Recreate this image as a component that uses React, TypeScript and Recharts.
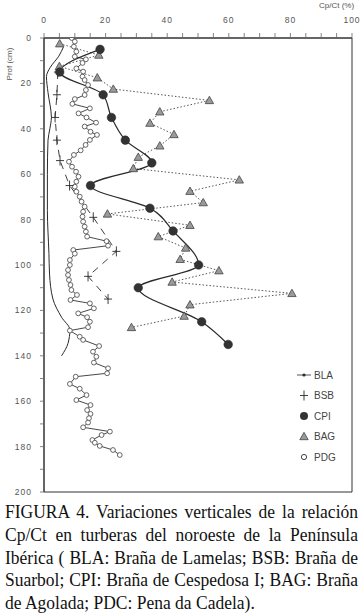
import { LineChart, XAxis, YAxis, Line, ReferenceArea } from 'recharts';

// Depth (cm) and Cp/Ct (%)
const blaDepth = [4, 8, 13, 17, 24, 35, 40, 45, 60, 76, 95, 104, 115, 123, 128.6, 134.5, 140];
const blaVal = [6.3, 4.8, 2.0, 0.8, 1.3, 2.4, 1.9, 1.3, 1.1, 1.1, 1.6, 1.8, 2.9, 5.7, 8.4, 7.8, 5.7];

const bsbDepth = [15, 25, 35, 45, 54, 65, 79, 94, 105, 115];
const bsbVal = [4.5, 4.2, 3.6, 4.2, 5.2, 8.3, 16.0, 23.5, 14.3, 20.8];

const cpiDepth = [5, 15, 25, 35, 45, 55, 65, 75, 85, 100, 110, 125, 135];
const cpiVal = [18.2, 5.1, 19.2, 21.9, 26.4, 35.0, 15.1, 34.4, 41.9, 50.2, 30.6, 51.2, 59.8];

const bagDepth = [2.5, 7.5, 12.5, 17.5, 22.5, 27.5, 32.5, 37.5, 42.5, 47.5, 52.5, 57.5, 62.5, 67.5, 72.5, 77.5, 82.5, 87.5, 92.5, 97.5, 102.5, 107.5, 112.5, 117.5, 122.5, 127.5];
const bagVal = [5.1, 17.8, 5.0, 17.3, 22.5, 53.7, 37.6, 34.4, 42.2, 37.6, 30.6, 29.0, 63.4, 47.4, 51.7, 20.6, 47.4, 37.1, 46.0, 44.2, 56.8, 41.6, 80.5, 47.4, 45.5, 28.4];

const pdcDepth = [
  0, 1.6, 3.8, 6, 8.2, 9.4, 11, 13.4, 14.8, 17, 18.5, 20.7, 22.9, 25.1, 26.9, 29, 31, 33.2, 35, 37.3,
  39, 41.3, 42.7, 44.9, 47.1, 49.5, 51.5, 54.5, 56.7, 58.9, 61.1, 63.3, 65.5, 67.7, 69.9, 72.1, 74.3,
  76.5, 78.7, 80.9, 83.1, 85.3, 87.5, 89.5, 91.5, 93.4, 95, 97.8, 100, 102.2, 104.4, 106.6, 108.8, 111,
  113.2, 115.4, 116.9, 119.1, 121.3, 123, 125, 127.4, 128.9, 131.6, 133, 135.7, 138.2, 140.4, 143,
  145.5, 147.7, 149.2, 152.4, 154.5, 157.3, 159.5, 161.7, 163.9, 165.6, 167.5, 169.4, 171.5, 173.4,
  174.9, 177.1, 178.3, 179.7, 181.5, 183.7,
];
const pdcVal = [
  9, 10, 9.7, 10.5, 10, 13.6, 12.5, 10.5, 12.7, 12.5, 13.2, 14.3, 13.6, 13.2, 10, 9.2, 14.9, 11.2, 13.8, 16.9,
  13.2, 15.1, 17.2, 14.9, 13.5, 11.9, 9.7, 8.1, 9.1, 10.4, 11.2, 10.5, 10, 10.5, 11.6, 12.2, 13.2,
  12.7, 12.5, 12.7, 13.2, 13.6, 14, 20.3, 20.8, 9.5, 10, 8.4, 8.4, 7.8, 7.8, 8.1, 8.6, 8.9,
  10.7, 8.6, 14.9, 16.2, 11.1, 14, 14.9, 14.3, 8.4, 11.6, 12.7, 17.9, 15.9, 17, 16.2,
  20.8, 20.5, 10.3, 8.4, 11.6, 13.8, 10.5, 15.1, 14, 15.1, 14.6, 14.3, 12.7, 21.4,
  18.7, 15.7, 16.5, 18.1, 22.4, 24.6,
];

const xTicks = [0, 5, 10, 15, 20, 25, 30, 35, 40, 45, 50, 55, 60, 65, 70, 75, 80, 85, 90, 95, 100];
const yTicks = [0, 10, 20, 30, 40, 50, 60, 70, 80, 90, 100, 110, 120, 130, 140, 150, 160, 170, 180, 190, 200];
const legendNames = ['BLA', 'BSB', 'CPI', 'BAG', 'PDG'];

const rows = (depth: number[], vals: number[]) => depth.map((d, i) => ({ d, v: vals[i] }));

const INK = '#2a2a2a';
const axisFont = { fontFamily: 'Liberation Sans, Arial, sans-serif', fontSize: 8.5, fill: '#555', letterSpacing: 1 };

const XTick = (p: any) => {
  const v = p.payload.value;
  return (
    <g>
      <line x1={p.x} x2={p.x} y1={p.y} y2={p.y - 5} stroke="#666" strokeWidth={0.8} />
      {v % 20 === 0 && (
        <text x={p.x} y={p.y - 15} textAnchor="middle" {...axisFont}>{v}</text>
      )}
    </g>
  );
};

const YTick = (p: any) => {
  const v = p.payload.value;
  return (
    <g>
      <line x1={p.x} x2={p.x - 4} y1={p.y} y2={p.y} stroke="#666" strokeWidth={0.8} />
      {v % 20 === 0 && (
        <text x={p.x - 12} y={p.y + 3} textAnchor="end" {...axisFont}>{v}</text>
      )}
    </g>
  );
};

const Tri = (p: any) => {
  if (p.cx == null) return null;
  const { cx, cy } = p;
  return <polygon key={p.index} points={`${cx},${cy - 4.2} ${cx - 4.2},${cy + 3.2} ${cx + 4.2},${cy + 3.2}`} fill="#9a9a9a" stroke="#444" strokeWidth={0.8} />;
};

const Plus = (p: any) => {
  if (p.cx == null) return null;
  const { cx, cy } = p;
  return (
    <g key={p.index}>
      <line x1={cx - 4} x2={cx + 4} y1={cy} y2={cy} stroke={INK} strokeWidth={0.9} />
      <line x1={cx} x2={cx} y1={cy - 5} y2={cy + 5} stroke={INK} strokeWidth={0.9} />
    </g>
  );
};

const LegendMark = ({ name, x, y }: { name: string; x: number; y: number }) => {
  if (name === 'BLA') return (
    <g>
      <line x1={x - 7} x2={x + 7} y1={y} y2={y} stroke={INK} strokeWidth={0.8} />
      <circle cx={x} cy={y} r={1.6} fill={INK} />
    </g>
  );
  if (name === 'BSB') return <Plus cx={x} cy={y} index={0} />;
  if (name === 'CPI') return <circle cx={x} cy={y} r={4} fill="#333" />;
  if (name === 'BAG') return <Tri cx={x} cy={y} index={0} />;
  return <circle cx={x} cy={y} r={2.6} fill="#fff" stroke="#444" />;
};

const captionLine = { textAlign: 'justify' as const, textAlignLast: 'justify' as const, whiteSpace: 'nowrap' as const };

export default function App() {
  return (
    <div style={{ position: 'absolute', left: 0, top: 0, width: 363, height: 614, background: '#fff', overflow: 'hidden' }}>
      <LineChart width={363} height={500} layout="vertical" margin={{ top: 0, right: 11, bottom: 8, left: 0 }}>
        <XAxis type="number" dataKey="v" orientation="top" domain={[0, 100]} ticks={xTicks} interval={0}
          height={38} tickSize={0} tickMargin={0} tick={(p: any) => <XTick {...p} />} axisLine={{ stroke: '#333' }} allowDataOverflow />
        <YAxis type="number" dataKey="d" domain={[0, 200]} ticks={yTicks} interval={0}
          width={44} tickSize={0} tickMargin={0} tick={(p: any) => <YTick {...p} />} axisLine={{ stroke: '#333' }} allowDataOverflow />
        <ReferenceArea x1={0} x2={100} y1={0} y2={200} fill="none" stroke="#333" strokeWidth={1} />
        <Line data={rows(pdcDepth, pdcVal)} dataKey="v" type="linear" stroke="#333" strokeWidth={0.9}
          dot={{ r: 2.4, fill: '#fff', stroke: '#555', strokeWidth: 0.9 }} isAnimationActive={false} />
        <Line data={rows(blaDepth, blaVal)} dataKey="v" type="monotone" stroke={INK} strokeWidth={1}
          dot={false} isAnimationActive={false} />
        <Line data={rows(bsbDepth, bsbVal)} dataKey="v" type="linear" stroke={INK} strokeWidth={0.9} strokeDasharray="7 6"
          dot={(p: any) => <Plus {...p} />} isAnimationActive={false} />
        <Line data={rows(bagDepth, bagVal)} dataKey="v" type="linear" stroke="#444" strokeWidth={0.9} strokeDasharray="1.5 2"
          dot={(p: any) => <Tri {...p} />} isAnimationActive={false} />
        <Line data={rows(cpiDepth, cpiVal)} dataKey="v" type="monotone" stroke={INK} strokeWidth={1.2}
          dot={{ r: 4.3, fill: '#333', stroke: '#222', strokeWidth: 0.5 }} isAnimationActive={false} />
      </LineChart>
      <svg width={363} height={500} style={{ position: 'absolute', left: 0, top: 0, pointerEvents: 'none' }}>
        <text x={319} y={8} fontFamily="Liberation Sans, Arial, sans-serif" fontSize={8} fill="#555">Cp/Ct (%)</text>
        <text transform="translate(12,64) rotate(-90)" textAnchor="middle" fontFamily="Liberation Sans, Arial, sans-serif" fontSize={8} fill="#555">Prof (cm)</text>
        {legendNames.map((n, i) => (
          <g key={n}>
            <LegendMark name={n} x={304} y={375 + i * 20.5} />
            <text x={314} y={375 + i * 20.5 + 3.5} fontFamily="Liberation Sans, Arial, sans-serif" fontSize={10} fill="#444">{n}</text>
          </g>
        ))}
      </svg>
      <div style={{ position: 'absolute', left: 5, top: 501, width: 353, fontFamily: '"Liberation Serif", "Times New Roman", serif', fontSize: 17.5, lineHeight: '20.9px', color: '#111', transform: 'scaleY(1.08)', transformOrigin: 'top left' }}>
        <div style={captionLine}>FIGURA 4. Variaciones verticales de la relación</div>
        <div style={captionLine}>Cp/Ct en turberas del noroeste de la Península</div>
        <div style={captionLine}>Ibérica ( BLA: Braña de Lamelas; BSB: Braña de</div>
        <div style={captionLine}>Suarbol; CPI: Braña de Cespedosa I; BAG: Braña</div>
        <div>de Agolada; PDC: Pena da Cadela).</div>
      </div>
    </div>
  );
}
